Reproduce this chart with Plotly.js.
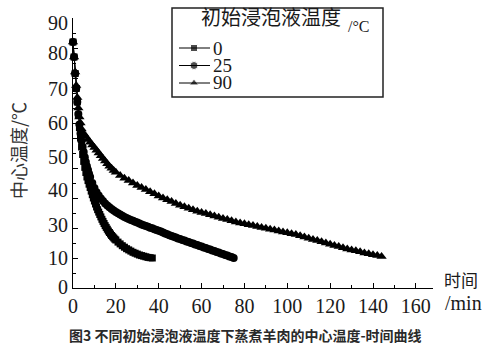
<!DOCTYPE html>
<html>
<head>
<meta charset="utf-8">
<script src="https://cdn.plot.ly/plotly-3.0.1.min.js"></script>
<style>html,body{margin:0;padding:0;background:#fff;}#chart{width:500px;height:354px;}</style>
</head>
<body>
<div id="chart"></div>
<script>
// ---- data ----
const seriesNames = ['0', '25', '90'];
const t0 = [0,0.5,1,1.5,2,2.5,3,3.5,4,4.5,5,5.5,6,6.5,7,7.5,8,8.5,9,9.5,10,10.5,11,11.5,12,12.5,13,13.5,14,14.5,15,15.5,16,16.5,17,17.5,18,18.5,19,19.5,20,
  21,22,23,24,25,26,27,28,29,30,31,32,33,34,35,36,37];
const v0 = [82,77,71.5,66.5,62,57.5,53.5,50,47,44.5,42.2,40.2,38.5,37,35.8,34.6,33.5,32.3,31.1,30,29,28,27,26.1,25.3,24.5,23.7,22.9,22.2,21.5,20.8,20.2,19.6,19.0,18.5,18.0,17.5,17.1,16.7,16.3,16.0,
  15.3,14.7,14.1,13.6,13.1,12.7,12.3,11.9,11.6,11.3,11.0,10.8,10.6,10.4,10.2,10.1,10.0];
const t25 = [0,0.5,1,1.5,2,2.5,3,3.5,4,4.5,5,5.5,6,6.5,7,7.5,8,
  9,10,11,12,13,14,15,16,17,18,19,20,21,22,23,24,25,26,27,28,29,30,31,32,33,34,35,36,37,38,39,40,
  41,42,43,44,45,46,47,48,49,50,51,52,53,54,55,56,57,58,59,60,61,62,63,64,65,66,67,68,69,70,71,72,73,74,75];
const v25 = [82,77,71.5,66.5,62,58,54.5,51.5,49,47,45.3,43.6,42,40.6,39.3,38.1,37,
  35,33.3,31.9,30.8,29.8,29.0,28.2,27.5,26.9,26.3,25.8,25.3,24.9,24.5,24.1,23.7,23.3,23.0,22.7,22.4,22.1,21.8,21.5,21.2,20.9,20.7,20.4,20.1,19.9,19.6,19.3,19.1,
  18.8,18.5,18.2,17.9,17.6,17.3,17.1,16.8,16.5,16.3,16.0,15.8,15.5,15.3,15.0,14.8,14.5,14.3,14.0,13.8,13.5,13.3,13.0,12.8,12.5,12.3,12.0,11.8,11.5,11.3,11.0,10.8,10.5,10.3,10.0];
const t90 = [0,0.5,1,1.5,2,2.5,3,3.5,4,
  5,6,7,8,9,10,11,12,13,14,15,16,17,18,19,20,
  22,24,26,28,30,32,34,36,38,40,42,44,46,48,50,52,54,56,58,60,62,64,66,68,70,72,74,76,78,80,
  82,84,86,88,90,92,94,96,98,100,102,104,106,108,110,112,114,116,118,120,122,124,126,128,130,132,134,136,138,140,142,144];
const v90 = [82,77,72,67.5,63.5,60,57,55,53,
  51.5,50.5,49.5,48.6,47.7,46.8,45.9,45.0,44.1,43.2,42.3,41.4,40.6,39.9,39.2,38.6,
  37.5,36.6,35.8,35.0,34.2,33.5,32.8,32.1,31.4,30.7,30.0,29.4,28.8,28.2,27.6,27.1,26.6,26.1,25.6,25.2,
  24.8,24.4,24.0,23.6,23.2,22.8,22.4,22.0,21.7,21.4,21.1,20.8,20.5,20.2,19.9,19.6,19.3,19.0,18.7,18.4,
  18.1,17.8,17.4,17.0,16.6,16.2,15.8,15.4,15.0,14.6,14.2,13.8,13.4,13.0,12.7,12.4,12.1,11.7,11.4,11.1,10.8,10.5];
const xTickVals = [0,20,40,60,80,100,120,140,160];
const yTickText = ['0','10','30','40','50','60','70','80','90'];
const legendTitle = '初始浸泡液温度';
const legendUnit = '/°C';
const yTitle = '中心温度/℃';
const xTitle = '时间';
const xUnit = '/min';
const caption = '图3 不同初始浸泡液温度下蒸煮羊肉的中心温度-时间曲线';

// ---- layout helpers ----
const M = {l: 73, r: 67, t: 18, b: 66};
const W = 500, H = 354;
const PW = W - M.l - M.r, PH = H - M.t - M.b;
const px = x => (x - M.l) / PW;          // pixel -> paper x
const py = y => (H - M.b - y) / PH;      // pixel -> paper y
// visual placement of the y tick labels in the original figure
const yLabelPos = [0.3, 10, 21, 32.7, 43.7, 55, 66.3, 78.3, 88.3];

const serif = 'Liberation Serif, Times New Roman, serif';
const cjk = 'Noto Sans CJK SC, sans-serif';
const ink = '#1a1a1a';

const symbols = ['square', 'circle', 'triangle-up'];
const sizes = [7, 8, 9];
const xs = [t0, t25, t90], ys = [v0, v25, v90];

const traces = [];
[2, 1, 0].forEach(i => {
  traces.push({
    x: xs[i], y: ys[i], type: 'scatter', mode: 'lines+markers',
    name: seriesNames[i], showlegend: false,
    line: {color: '#000', width: 1},
    marker: {symbol: symbols[i], size: sizes[i], color: '#000'},
    xaxis: 'x', yaxis: 'y', cliponaxis: false
  });
});
// empty trace so the label axis (y2) gets drawn
traces.push({x: [null], y: [null], type: 'scatter', mode: 'markers', showlegend: false,
  hoverinfo: 'skip', xaxis: 'x', yaxis: 'y2'});
// legend sample markers (custom compact legend)
const legRowsPx = [48, 65.5, 83];
traces.push({
  x: legRowsPx.map(() => px(194)), y: legRowsPx.map(py),
  type: 'scatter', mode: 'markers', showlegend: false, hoverinfo: 'skip',
  marker: {symbol: symbols, size: [7, 8, 8], color: '#000'},
  xaxis: 'x2', yaxis: 'y3', cliponaxis: false
});

const shapes = [{
  type: 'rect', xref: 'paper', yref: 'paper',
  x0: px(172), x1: px(383), y0: py(97), y1: py(8),
  line: {color: '#222', width: 1.5}, fillcolor: 'rgba(0,0,0,0)'
}];
legRowsPx.forEach(r => shapes.push({
  type: 'line', xref: 'paper', yref: 'paper',
  x0: px(179), x1: px(210), y0: py(r), y1: py(r),
  line: {color: '#000', width: 1}
}));

const annotations = [
  {text: legendTitle, xref: 'paper', yref: 'paper', x: px(199), y: py(17), xanchor: 'left', yanchor: 'middle',
   showarrow: false, font: {family: cjk, size: 20, color: ink}},
  {text: legendUnit, xref: 'paper', yref: 'paper', x: px(346), y: py(26), xanchor: 'left', yanchor: 'middle',
   showarrow: false, font: {family: serif, size: 16, color: ink}},
  {text: yTitle, xref: 'paper', yref: 'paper', x: px(18), y: py(150), xanchor: 'center', yanchor: 'middle',
   textangle: -90, showarrow: false, font: {family: cjk, size: 18, color: '#333'}},
  {text: xTitle, xref: 'paper', yref: 'paper', x: px(442), y: py(279), xanchor: 'left', yanchor: 'middle',
   showarrow: false, font: {family: cjk, size: 17, color: ink}},
  {text: xUnit, xref: 'paper', yref: 'paper', x: px(443), y: py(303), xanchor: 'left', yanchor: 'middle',
   showarrow: false, font: {family: serif, size: 20, color: ink}},
  {text: caption, xref: 'paper', yref: 'paper', x: px(245), y: py(335), xanchor: 'center', yanchor: 'middle',
   showarrow: false, font: {family: cjk, size: 14, color: '#2a2a2a', weight: 'bold'}}
];
legRowsPx.forEach((r, i) => annotations.push({
  text: seriesNames[i], xref: 'paper', yref: 'paper', x: px(211), y: py(r), xanchor: 'left', yanchor: 'middle',
  showarrow: false, font: {family: serif, size: 19, color: ink}
}));

const layout = {
  width: W, height: H, margin: M,
  paper_bgcolor: '#fff', plot_bgcolor: '#fff', showlegend: false,
  xaxis: {
    range: [0, 168], tickmode: 'array', tickvals: xTickVals,
    ticks: 'inside', ticklen: 5, tickwidth: 1, tickcolor: '#000',
    minor: {ticks: 'inside', dtick: 10, tick0: 0, ticklen: 3, tickcolor: '#000'},
    showline: true, linecolor: '#000', linewidth: 1.2, showgrid: false, zeroline: false,
    tickfont: {family: serif, size: 20, color: ink}, ticklabelstandoff: 0
  },
  yaxis: {
    range: [0, 90], dtick: 10, tick0: 0, showticklabels: false,
    ticks: 'inside', ticklen: 5, tickwidth: 1, tickcolor: '#000',
    minor: {ticks: 'inside', dtick: 5, tick0: 0, ticklen: 3, tickcolor: '#000'},
    showline: true, linecolor: '#000', linewidth: 1.2, showgrid: false, zeroline: false
  },
  yaxis2: {
    overlaying: 'y', side: 'left', anchor: 'x', range: [0, 90], tickmode: 'array',
    tickvals: yLabelPos, ticktext: yTickText, ticks: '', showline: false, showgrid: false, zeroline: false,
    tickfont: {family: serif, size: 20, color: ink}, ticklabelstandoff: 4
  },
  xaxis2: {overlaying: 'x', range: [0, 1], visible: false},
  yaxis3: {overlaying: 'y', range: [0, 1], visible: false},
  shapes: shapes, annotations: annotations
};

Plotly.newPlot('chart', traces, layout, {displayModeBar: false, staticPlot: true});
</script>
</body>
</html>
